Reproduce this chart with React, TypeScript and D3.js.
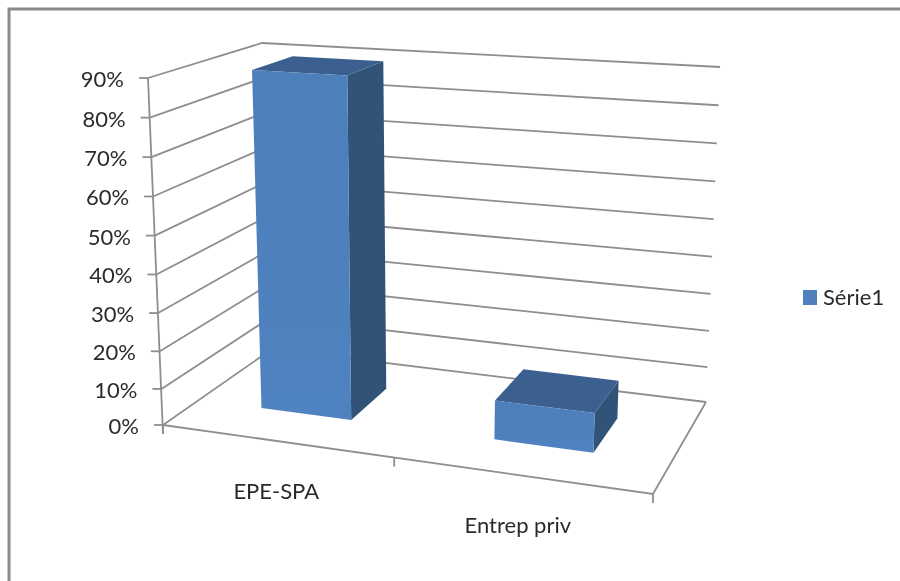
import React from "react";
import { line, curveLinearClosed, scaleBand, scalePow, interpolateNumber } from "d3";

const categories = ["EPE-SPA", "Entrep priv"];
const seriesName = "Série1";
const seriesValues = [90, 10.5];
const tickValues = [0, 10, 20, 30, 40, 50, 60, 70, 80, 90];
const tickLabels = ["0%", "10%", "20%", "30%", "40%", "50%", "60%", "70%", "80%", "90%"];

type Pt = [number, number];

// screen position of the eight corners of the 3D box (front/back, left/right, bottom/top)
const box = {
	flb: [163, 425] as Pt,
	flt: [148, 78] as Pt,
	frb: [653, 494] as Pt,
	frt: [670, 109] as Pt,
	blb: [272, 349] as Pt,
	blt: [262, 43] as Pt,
	brb: [706, 402] as Pt,
	brt: [720, 67] as Pt
};

const mix = (a: Pt, b: Pt, t: number): Pt => [
	interpolateNumber(a[0], b[0])(t),
	interpolateNumber(a[1], b[1])(t)
];

// the walls foreshorten a little, so the scales are not quite linear
const xWarp = scalePow().exponent(1.09).domain([0, 1]).range([0, 1]);
const yScale = scalePow().exponent(1.03).domain([0, 90]).range([0, 1]);

const xBand = scaleBand<string>()
	.domain(categories)
	.range([0.007, 0.997])
	.paddingInner(0.6)
	.paddingOuter(0.3);

const project = (x: number, value: number, depth: number): Pt => {
	const u = xWarp(x) as number;
	const f = yScale(value) as number;
	const front = mix(mix(box.flb, box.frb, u), mix(box.flt, box.frt, u), f);
	const back = mix(mix(box.blb, box.brb, u), mix(box.blt, box.brt, u), f);
	return mix(front, back, depth);
};

const barFront = 0.335;
const barBack = 0.72;
const labelNudge = [3, -3];

const poly = line<Pt>().curve(curveLinearClosed);
const seg = line<Pt>();

const gridColor = "#8e8e8e";
const textColor = "#2c2c2c";
const font = "Lato, 'Open Sans', sans-serif";

export default function App() {
	const middle = (xBand(categories[1]) as number) - (xBand.step() * xBand.paddingInner()) / 2;
	const catTicks = [0, middle, 1];

	return (
		<svg
			width={900}
			height={581}
			style={{ position: "absolute", left: 0, top: 0, background: "#fff" }}
		>
			<defs>
				<linearGradient id="frontFill" x1="0" y1="0" x2="0" y2="1">
					<stop offset="0" stopColor="#4e7fbb" />
					<stop offset="1" stopColor="#4f82c0" />
				</linearGradient>
				<filter id="soft" x="-5%" y="-5%" width="110%" height="110%">
					<feGaussianBlur stdDeviation="0.55" />
				</filter>
			</defs>

			<path d="M9,581 V9 H900" fill="none" stroke="#8a8a8a" strokeWidth={3} />

			<g filter="url(#soft)">
				{tickValues.map((v) => (
					<g key={v} fill="none" stroke={gridColor} strokeWidth={1.8}>
						<path d={seg([project(0, v, 0), project(0, v, 1), project(1, v, 1)]) as string} />
						<path d={seg([
							[project(0, v, 0)[0] - 9, project(0, v, 0)[1]],
							project(0, v, 0)
						]) as string} />
					</g>
				))}

				<g fill="none" stroke={gridColor} strokeWidth={1.8}>
					<path d={seg([project(0, 90, 0), [project(0, 0, 0)[0], project(0, 0, 0)[1] + 9]]) as string} />
					<path d={seg([project(0, 0, 0), project(1, 0, 0), project(1, 0, 1)]) as string} />
					{catTicks.map((t) => {
						const p = project(t, 0, 0);
						return <path key={t} d={seg([p, [p[0], p[1] + 9]]) as string} />;
					})}
				</g>

				{categories.map((cat, i) => {
					const x0 = xBand(cat) as number;
					const x1 = x0 + xBand.bandwidth();
					const v = seriesValues[i];
					const front: Pt[] = [project(x0, v, barFront), project(x1, v, barFront), project(x1, 0, barFront), project(x0, 0, barFront)];
					const side: Pt[] = [project(x1, v, barFront), project(x1, v, barBack), project(x1, 0, barBack), project(x1, 0, barFront)];
					const top: Pt[] = [project(x0, v, barFront), project(x0, v, barBack), project(x1, v, barBack), project(x1, v, barFront)];
					return (
						<g key={cat}>
							<path d={poly(side) as string} fill="#315278" />
							<path d={poly(top) as string} fill="#3b6190" />
							<path d={poly(front) as string} fill="url(#frontFill)" />
						</g>
					);
				})}

				<g fontFamily={font} fill={textColor}>
					{tickValues.map((v, i) => {
						const p = project(0, v, 0);
						return (
							<text key={v} x={p[0] - 24} y={p[1] + 9} fontSize={22} textAnchor="end">
								{tickLabels[i]}
							</text>
						);
					})}
					{categories.map((cat, i) => {
						const p = project((xBand(cat) as number) + xBand.bandwidth() / 2, 0, 0);
						return (
							<text key={cat} x={p[0] + labelNudge[i]} y={p[1] + 58} fontSize={22} textAnchor="middle">
								{cat}
							</text>
						);
					})}
					<text x={823} y={305} fontSize={22}>{seriesName}</text>
				</g>
				<rect x={803} y={290} width={14} height={15} fill="#4f81bd" />
			</g>
		</svg>
	);
}
